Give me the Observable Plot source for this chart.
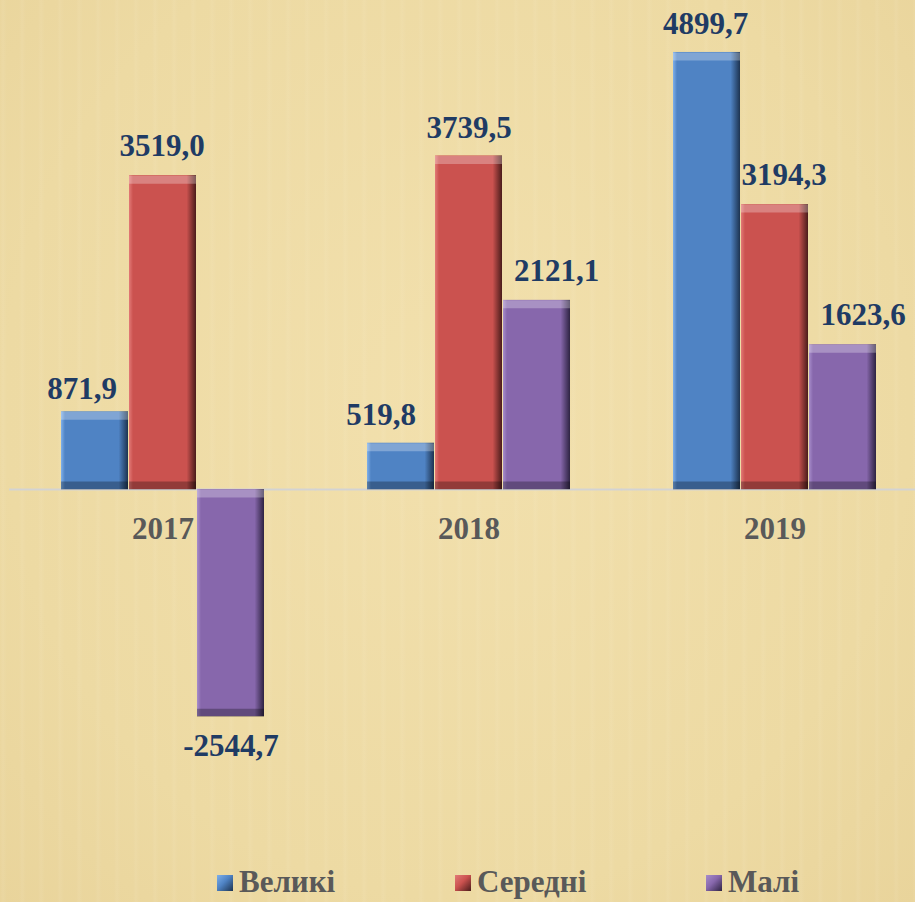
<!DOCTYPE html>
<html>
<head>
<meta charset="utf-8">
<script src="https://cdn.jsdelivr.net/npm/d3@7"></script>
<script src="https://cdn.jsdelivr.net/npm/@observablehq/plot@0.6"></script>
<style>
  html, body { margin: 0; padding: 0; }
  body { width: 915px; height: 902px; overflow: hidden;
         background: #eedaa3;
         background-image:
           repeating-linear-gradient(90deg, rgba(255,255,255,0.00) 0px, rgba(255,255,255,0.06) 3px, rgba(255,255,255,0.00) 7px, rgba(0,0,0,0.00) 19px),
           radial-gradient(ellipse at 50% 45%, #f2e0ad 0%, #eddaa3 70%, #e9d49b 100%);
         font-family: 'Liberation Serif', 'Times New Roman', serif; }
  #chart svg { display: block; }
  #legend { position: relative; height: 56px; }
  .item { position: absolute; top: 20px; height: 31px; display: flex; align-items: center; }
  .mark { width: 16px; height: 16px; margin-right: 6px; margin-top: 3px; }
  .lab { font-size: 31px; font-weight: bold; color: #595959; line-height: 31px; }
</style>
</head>
<body>
<div id="chart"></div>
<div id="legend"></div>
<script>
const years = ["2017", "2018", "2019"];
const series = ["Великі", "Середні", "Малі"];
const velyki = [871.9, 519.8, 4899.7];
const seredni = [3519.0, 3739.5, 3194.3];
const mali = [-2544.7, 2121.1, 1623.6];
const colors = ["#4f83c4", "#cb524f", "#8767ac"];
const edgeLight = ["#7fb0ea", "#e27a77", "#a78dcb"];
const edgeDark = ["#1d3350", "#4a1c1b", "#2e2342"];
// label nudges (style only), order: year-major, series-minor
const labelDx = [-13, -1, 0, -20, 0, 19.5, -1.5, 9, 20];
const labelDy = [-13, -20, 39, -18, -18, -19, -18, -20, -20];

const valuesBySeries = [velyki, seredni, mali];
const data = years.flatMap((y, i) => series.map((s, j) => ({year: y, series: s, value: valuesBySeries[j][i]})));
const fmt = d => d.value.toFixed(1).replace(".", ",");

const marks = [
  Plot.ruleY([0], {stroke: "#d3d3d3", strokeWidth: 2, insetLeft: -52, insetRight: -52}),
  Plot.text(years, {fx: d => d, y: 0, text: d => d, dy: 49, lineAnchor: "bottom",
    fill: "#595959", fontWeight: "bold", fontSize: 31})
];
series.forEach((s, j) => {
  const sub = data.filter(d => d.series === s);
  marks.push(
    Plot.barY(sub, {fx: "year", x: "series", y: "value", fill: `url(#g${j})`}),
    Plot.tickY(sub, {fx: "year", x: "series", y: d => Math.max(d.value, 0), stroke: "white", strokeOpacity: 0.28, strokeWidth: 8, dy: 4}),
    Plot.tickY(sub, {fx: "year", x: "series", y: d => Math.min(d.value, 0), stroke: "black", strokeOpacity: 0.28, strokeWidth: 8, dy: -4})
  );
});
data.forEach((d, k) => {
  marks.push(Plot.text([d], {fx: "year", x: "series", y: "value", text: fmt,
    dx: labelDx[k], dy: labelDy[k], lineAnchor: "bottom",
    fill: "#1f3b64", fontWeight: "bold", fontSize: 31}));
});

const svg = Plot.plot({
  width: 915,
  height: 846,
  marginLeft: 60,
  marginRight: 39,
  marginTop: 0,
  marginBottom: 0,
  style: {background: "transparent", fontFamily: "'Liberation Serif', 'Times New Roman', serif", overflow: "visible"},
  fx: {domain: years, paddingInner: 0.338, paddingOuter: 0, axis: null, label: null},
  x: {domain: series, paddingInner: 0.015, paddingOuter: 0, axis: null, label: null},
  y: {domain: [-4000, 5482], axis: null},
  marks
});

const defs = series.map((s, j) => `
  <linearGradient id="g${j}" x1="0" x2="1" y1="0" y2="0">
    <stop offset="0" stop-color="${edgeLight[j]}"/>
    <stop offset="0.06" stop-color="${colors[j]}"/>
    <stop offset="0.86" stop-color="${colors[j]}"/>
    <stop offset="1" stop-color="${edgeDark[j]}"/>
  </linearGradient>`).join("");
svg.insertAdjacentHTML("afterbegin", `<defs>${defs}</defs>`);
document.getElementById("chart").appendChild(svg);

const legendPos = [217, 455, 706];
const legend = document.getElementById("legend");
series.forEach((s, j) => {
  const item = document.createElement("div");
  item.className = "item";
  item.style.left = legendPos[j] + "px";
  item.innerHTML = `<div class="mark" style="background:linear-gradient(135deg, ${edgeLight[j]} 0%, ${colors[j]} 45%, ${edgeDark[j]} 100%)"></div><span class="lab">${s}</span>`;
  legend.appendChild(item);
});
</script>
</body>
</html>
